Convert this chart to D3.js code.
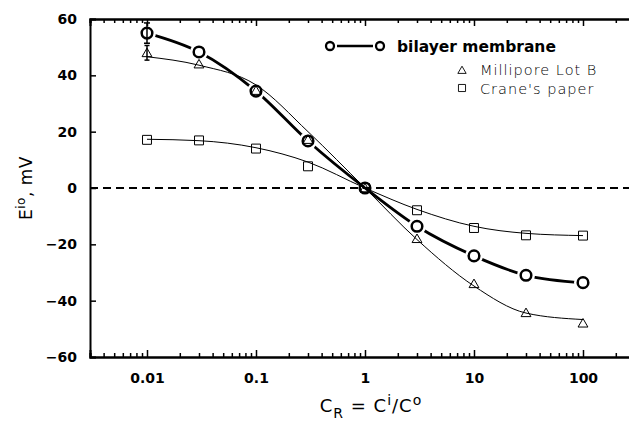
<!DOCTYPE html>
<html>
<head>
<meta charset="utf-8">
<script src="https://cdn.jsdelivr.net/npm/d3@7"></script>
<style>
  body { margin: 0; background: #fff; }
  svg { display: block; }
</style>
</head>
<body>
<svg id="chart" width="629" height="421"></svg>
<script>
// concentration ratios where each membrane was measured
const ratios = [0.01, 0.03, 0.1, 0.3, 1, 3, 10, 30, 100]
// measured potentials (mV)
const bilayer = [55, 48.3, 34.4, 16.7, 0, -13.6, -24.1, -31, -33.6]
const bilayerErr = [3.6, 0, 0, 0, 0, 0, 0, 0, 0]
const millipore = [48, 44, 34.6, 17.2, 0, -18, -34, -44.3, -48]
const milliporeErr = [2.6, 0, 0, 0, 0, 0, 0, 0, 0]
const crane = [17.1, 16.9, 14, 7.7, 0, -7.9, -14.2, -16.8, -16.9]
// fitted curves
const milliporeFit = [46.6, 43.6, 36.6, 20, 0, -18.3, -34.8, -44.4, -46.7]
const craneFit = [17.3, 16.8, 14.3, 9.2, 0, -7.6, -13.6, -16.1, -16.9]
const xTickValues = [0.01, 0.1, 1, 10, 100]
const yTickValues = [-60, -40, -20, 0, 20, 40, 60]
const legendItems = ['bilayer membrane', 'Millipore Lot B', "Crane's paper"]

const svg = d3.select('#chart')
const W = 629
const H = 421
const plot = { left: 90, top: 19, bottom: 357 }

svg.append('rect').attr('width', W).attr('height', H).attr('fill', '#fff')

const x = d3.scaleLog()
  .domain([0.003, 300])
  .range([plot.left, plot.left + 109 * 5])
const y = d3.scaleLinear()
  .domain([-60, 60])
  .range([plot.bottom, plot.top])

const labelFont = "'DejaVu Sans', sans-serif"

// bottom axis: minor then major ticks, pointing inward
const minorTicks = x.ticks().filter(v => !xTickValues.includes(v))
svg.append('g')
  .attr('transform', `translate(0,${plot.bottom})`)
  .call(d3.axisBottom(x).tickValues(minorTicks).tickSize(-4).tickFormat(''))
svg.append('g')
  .attr('class', 'xaxis')
  .attr('transform', `translate(0,${plot.bottom})`)
  .call(d3.axisBottom(x).tickValues(xTickValues).tickSize(-7).tickPadding(16)
    .tickFormat(d => d3.format('~g')(d)))
// top axis
svg.append('g')
  .attr('transform', `translate(0,${plot.top})`)
  .call(d3.axisTop(x).tickValues(minorTicks).tickSize(-4).tickFormat(''))
svg.append('g')
  .attr('transform', `translate(0,${plot.top})`)
  .call(d3.axisTop(x).tickValues(xTickValues).tickSize(-7).tickFormat(''))
// left axis
svg.append('g')
  .attr('class', 'yaxis')
  .attr('transform', `translate(${plot.left},0)`)
  .call(d3.axisLeft(y).tickValues(yTickValues).tickSize(-6).tickPadding(13))

svg.selectAll('.domain')
  .attr('stroke', '#000')
  .attr('stroke-width', 2)
svg.selectAll('.tick line')
  .attr('stroke', '#000')
  .attr('stroke-width', 1.5)
svg.selectAll('.xaxis text, .yaxis text')
  .attr('fill', '#000')
  .style('font-family', labelFont)
  .style('font-weight', 'bold')
  .style('font-size', '14px')
svg.selectAll('.yaxis text').text(d => d < 0 ? '\u2212' + Math.abs(d) : d)

// zero reference line
svg.append('line')
  .attr('x1', plot.left)
  .attr('x2', W)
  .attr('y1', y(0))
  .attr('y2', y(0))
  .attr('stroke', '#000')
  .attr('stroke-width', 2)
  .attr('stroke-dasharray', '8,5')

const pts = vals => ratios.map((r, i) => [x(r), y(vals[i])])
const curve = d3.line().curve(d3.curveMonotoneX)

// thin fitted curves
svg.append('path')
  .attr('d', curve(pts(milliporeFit)))
  .attr('fill', 'none')
  .attr('stroke', '#000')
  .attr('stroke-width', 1)
svg.append('path')
  .attr('d', curve(pts(craneFit)))
  .attr('fill', 'none')
  .attr('stroke', '#000')
  .attr('stroke-width', 1)

// thick bilayer line, broken around its markers
const mask = svg.append('defs').append('mask').attr('id', 'gaps')
mask.append('rect').attr('width', W).attr('height', H).attr('fill', '#fff')
mask.selectAll('circle')
  .data(pts(bilayer).filter((p, i) => ratios[i] !== 1))
  .enter()
  .append('circle')
  .attr('cx', d => d[0])
  .attr('cy', d => d[1])
  .attr('r', 9)
  .attr('fill', '#000')
svg.append('path')
  .attr('d', curve(pts(bilayer)))
  .attr('fill', 'none')
  .attr('stroke', '#000')
  .attr('stroke-width', 2.8)
  .attr('mask', 'url(#gaps)')

// error bars
function errorBars (vals, errs, cap) {
  ratios.forEach((r, i) => {
    if (!errs[i]) return
    const cx = x(r)
    const g = svg.append('g').attr('stroke', '#000').attr('stroke-width', 1.5)
    g.append('line').attr('x1', cx).attr('x2', cx)
      .attr('y1', y(vals[i] + errs[i])).attr('y2', y(vals[i] - errs[i]))
    ;[vals[i] + errs[i], vals[i] - errs[i]].forEach(v => {
      g.append('line').attr('x1', cx - cap).attr('x2', cx + cap)
        .attr('y1', y(v)).attr('y2', y(v))
    })
  })
}
errorBars(bilayer, bilayerErr, 3)
errorBars(millipore, milliporeErr, 2.5)

// markers
const triangle = d3.symbol().type(d3.symbolTriangle).size(42)
const square = d3.symbol().type(d3.symbolSquare).size(80)

svg.selectAll('.sq')
  .data(pts(crane))
  .enter()
  .append('path')
  .attr('class', 'sq')
  .attr('d', square)
  .attr('transform', d => `translate(${d[0]},${d[1]})`)
  .attr('fill', 'none')
  .attr('stroke', '#000')
  .attr('stroke-width', 1)
svg.selectAll('.tri')
  .data(pts(millipore))
  .enter()
  .append('path')
  .attr('class', 'tri')
  .attr('d', triangle)
  .attr('transform', d => `translate(${d[0]},${d[1] + 1})`)
  .attr('fill', 'none')
  .attr('stroke', '#000')
  .attr('stroke-width', 1)
svg.selectAll('.circ')
  .data(pts(bilayer))
  .enter()
  .append('circle')
  .attr('class', 'circ')
  .attr('cx', d => d[0])
  .attr('cy', d => d[1])
  .attr('r', 5.3)
  .attr('fill', 'none')
  .attr('stroke', '#000')
  .attr('stroke-width', 2.5)

// legend
const lg = svg.append('g')
lg.append('line')
  .attr('x1', 337).attr('x2', 373)
  .attr('y1', 46).attr('y2', 46)
  .attr('stroke', '#000').attr('stroke-width', 2.5)
;[330, 380].forEach(cx => {
  lg.append('circle')
    .attr('cx', cx).attr('cy', 46).attr('r', 4)
    .attr('fill', 'none').attr('stroke', '#000').attr('stroke-width', 2.3)
})
lg.append('text')
  .attr('x', 397).attr('y', 52)
  .style('font-family', labelFont)
  .style('font-weight', 'bold')
  .style('font-size', '15.5px')
  .text(legendItems[0])
lg.append('path')
  .attr('d', d3.symbol().type(d3.symbolTriangle).size(30))
  .attr('transform', 'translate(462,71)')
  .attr('fill', 'none').attr('stroke', '#000').attr('stroke-width', 0.9)
lg.append('path')
  .attr('d', d3.symbol().type(d3.symbolSquare).size(50))
  .attr('transform', 'translate(462,88)')
  .attr('fill', 'none').attr('stroke', '#000').attr('stroke-width', 0.9)
;[[legendItems[1], 75], [legendItems[2], 93.5]].forEach(([t, ty]) => {
  lg.append('text')
    .attr('x', 480).attr('y', ty)
    .style('font-family', "'DejaVu Sans', sans-serif")
    .style('font-weight', 200)
    .style('font-size', '14.5px')
    .style('letter-spacing', '1px')
    .text(t)
})

// axis titles
const yTitle = svg.append('text')
  .attr('transform', 'translate(32,188) rotate(-90)')
  .attr('text-anchor', 'middle')
  .style('font-family', labelFont)
  .style('font-size', '17px')
  .style('letter-spacing', '0.5px')
yTitle.append('tspan').text('E')
yTitle.append('tspan').attr('dy', -7).style('font-size', '12px').text('io')
yTitle.append('tspan').attr('dy', 7).text(', mV')

const xTitle = svg.append('text')
  .attr('x', 371).attr('y', 412)
  .attr('text-anchor', 'middle')
  .style('font-family', labelFont)
  .style('font-size', '18px')
  .style('letter-spacing', '1px')
xTitle.append('tspan').text('C')
xTitle.append('tspan').attr('dy', 6).style('font-size', '14px').text('R')
xTitle.append('tspan').attr('dy', -6).text(' = C')
xTitle.append('tspan').attr('dy', -7).style('font-size', '14px').text('i')
xTitle.append('tspan').attr('dy', 7).text('/C')
xTitle.append('tspan').attr('dy', -7).style('font-size', '14px').text('o')
</script>
</body>
</html>
